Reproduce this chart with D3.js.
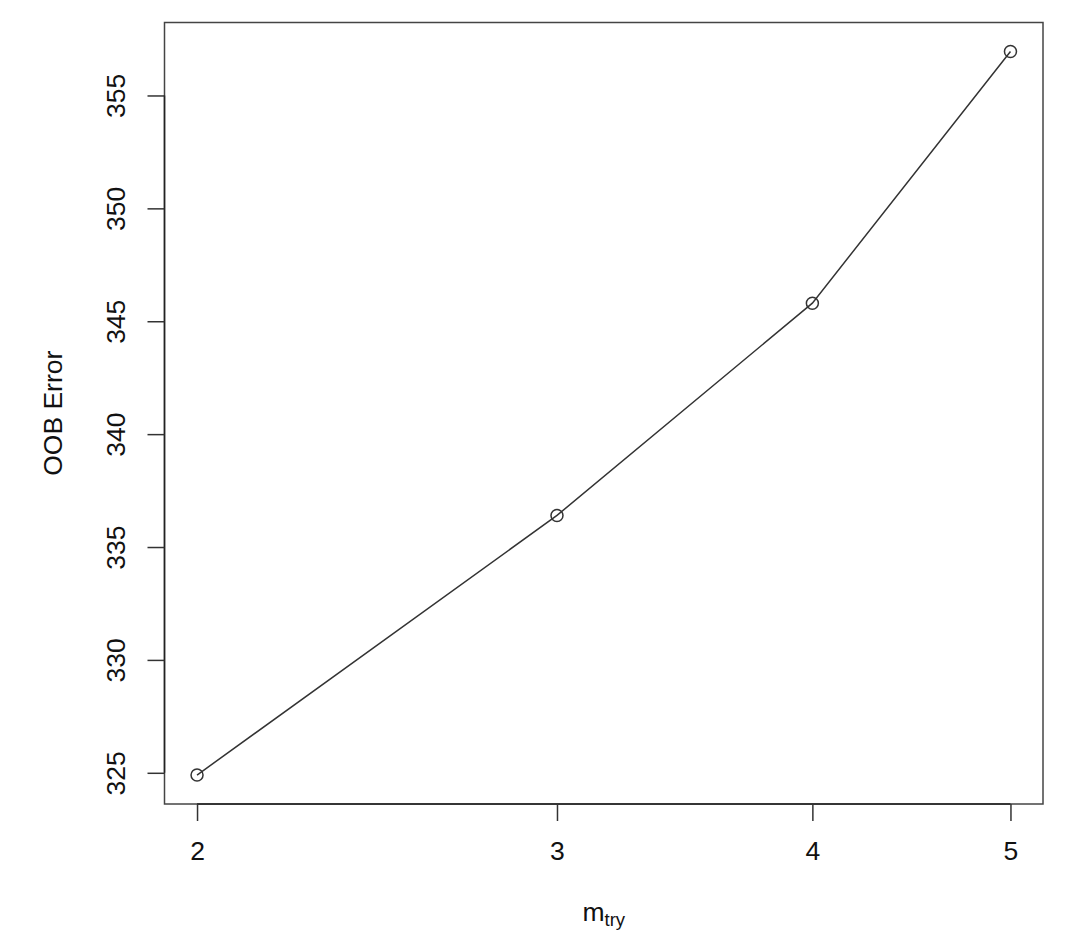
<!DOCTYPE html>
<html>
<head>
<meta charset="utf-8">
<script src="https://cdn.jsdelivr.net/npm/d3@7"></script>
<style>
  body { margin: 0; background: #fff; }
  text { font-family: "Liberation Sans", Arial, sans-serif; fill: #111; }
</style>
</head>
<body>
<script>
const mtry = [2, 3, 4, 5];
const oobError = [324.9, 336.4, 345.8, 356.95];
const yTicks = [325, 330, 335, 340, 345, 350, 355];

const W = 1069, H = 932;
const plot = {left: 164.5, right: 1043, top: 22.5, bottom: 804};
const fs = 26.5;

// R style 4% padding, x on log scale
const lx = d3.extent(mtry).map(Math.log);
const px = (lx[1] - lx[0]) * 0.04;
const x = d3.scaleLog()
  .domain([Math.exp(lx[0] - px), Math.exp(lx[1] + px)])
  .range([plot.left, plot.right]);

const ye = d3.extent(oobError);
const py = (ye[1] - ye[0]) * 0.04;
const y = d3.scaleLinear()
  .domain([ye[0] - py, ye[1] + py])
  .range([plot.bottom, plot.top]);

const svg = d3.select("body").append("svg")
  .attr("width", W).attr("height", H);

// box
svg.append("rect")
  .attr("x", plot.left).attr("y", plot.top)
  .attr("width", plot.right - plot.left).attr("height", plot.bottom - plot.top)
  .attr("fill", "none").attr("stroke", "#444").attr("stroke-width", 1.5);

// x axis
const xAxis = d3.axisBottom(x).tickValues(mtry).tickFormat(d3.format("d"))
  .tickSize(17).tickSizeOuter(0);
const gx = svg.append("g").attr("transform", "translate(0," + plot.bottom + ")").call(xAxis);
gx.select(".domain").attr("d", "M" + x(mtry[0]) + ",0H" + x(mtry[mtry.length - 1]))
  .attr("stroke", "#222").attr("stroke-width", 1.5);
gx.selectAll(".tick line").attr("stroke", "#333").attr("stroke-width", 1.5);
gx.selectAll(".tick text").attr("y", 56).attr("dy", 0)
  .style("font-size", fs + "px").attr("fill", "#111")
  .style("font-family", '"Liberation Sans", Arial, sans-serif');

// y axis
const yAxis = d3.axisLeft(y).tickValues(yTicks).tickSize(17).tickSizeOuter(0);
const gy = svg.append("g").attr("transform", "translate(" + plot.left + ",0)").call(yAxis);
gy.select(".domain").attr("d", "M0," + y(yTicks[0]) + "V" + y(yTicks[yTicks.length - 1]))
  .attr("stroke", "#222").attr("stroke-width", 1.5);
gy.selectAll(".tick line").attr("stroke", "#333").attr("stroke-width", 1.5);
gy.selectAll(".tick text")
  .attr("x", 0).attr("dy", 0).attr("text-anchor", "middle")
  .attr("transform", "translate(-39.5,0) rotate(-90)")
  .style("font-size", fs + "px").attr("fill", "#111")
  .style("font-family", '"Liberation Sans", Arial, sans-serif');

// line + points
const line = d3.line().x((d, i) => x(mtry[i])).y(d => y(d));
svg.append("path").datum(oobError)
  .attr("d", line).attr("fill", "none")
  .attr("stroke", "#333").attr("stroke-width", 1.5);

svg.selectAll("circle.pt").data(oobError).enter().append("circle")
  .attr("class", "pt")
  .attr("cx", (d, i) => x(mtry[i])).attr("cy", d => y(d))
  .attr("r", 6).attr("fill", "none")
  .attr("stroke", "#333").attr("stroke-width", 1.5);

// axis titles
const xt = svg.append("text")
  .attr("x", (plot.left + plot.right) / 2).attr("y", 921)
  .attr("text-anchor", "middle").style("font-size", fs + "px");
xt.append("tspan").text("m");
xt.append("tspan").attr("dy", 5).style("font-size", (fs * 0.7) + "px").text("try");

svg.append("text")
  .attr("transform", "translate(61.5," + ((plot.top + plot.bottom) / 2) + ") rotate(-90)")
  .attr("text-anchor", "middle").style("font-size", fs + "px")
  .text("OOB Error");
</script>
</body>
</html>
